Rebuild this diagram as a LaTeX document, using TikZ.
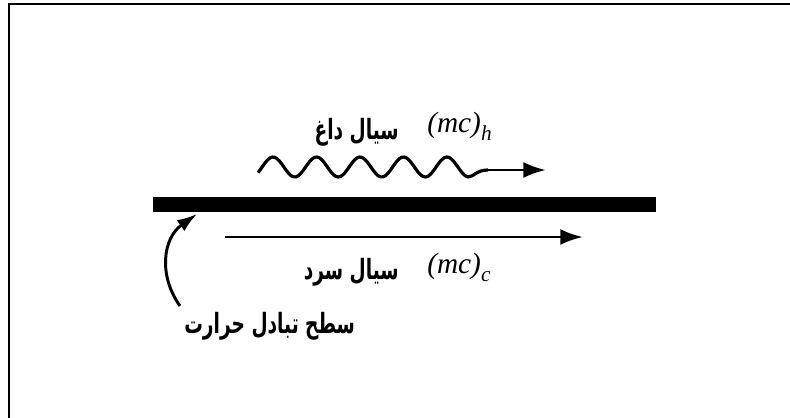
\documentclass[tikz,border=0pt]{standalone}
\usepackage{fontspec}
\usepackage{graphicx}
\usetikzlibrary{arrows.meta}
\TeXXeTstate=1
\newfontfamily\arabicfont[Script=Arabic]{DejaVu Sans}
\newfontfamily\lblserif{Liberation Serif}
\newcommand{\mclabel}[1]{{\lblserif\itshape (mc)\raisebox{-0.3em}{\fontsize{16}{18}\selectfont #1}}}
\newcommand{\fatext}[1]{\scalebox{0.9}[1.35]{\beginR #1\endR}}
\tikzset{
  frameline/.style={line width=2pt},
  flowarrow/.style={line width=2.2pt,-{Latex[length=17pt,width=12pt]}},
  fa/.style={font=\arabicfont\bfseries\fontsize{15.5}{18}\selectfont, inner sep=0pt},
  mathlbl/.style={font=\fontsize{22}{24}\selectfont, inner sep=0pt},
}
\begin{document}
\begin{tikzpicture}[x=0.75pt,y=-0.75pt]
\useasboundingbox (0,0) rectangle (790,418);
% frame (left and top edges)
\draw[frameline] (9,418) -- (9,4) -- (790,4);
% heat exchange wall
\node[fill=black, minimum width=503*0.75pt, minimum height=15*0.75pt, inner sep=0pt, anchor=north west] (wall) at (153,197) {};
% hot fluid wavy arrow
\coordinate (wend) at (546,170);
\draw[line width=2.4pt] plot[domain=258:468, samples=90, smooth] (\x,{167-10*cos((\x-273)*8.27586)})
  .. controls (474,177) and (476,170) .. (488,170) coordinate (wtail);
\draw[flowarrow] (wtail) -- (wend);
% cold fluid straight arrow
\coordinate (cstart) at (225,237);
\coordinate (cend) at (583,237);
\draw[flowarrow] (cstart) -- (cend);
% labels
\node[fa, anchor=base east] (hotfa) at (399,139) {\fatext{سیال داغ}};
\node[mathlbl, anchor=base west] (hotm) at (427,132) {\mclabel{h}};
\node[fa, anchor=base east] (coldfa) at (399,279) {\fatext{سیال سرد}};
\node[mathlbl, anchor=base west] (coldm) at (427,273) {\mclabel{c}};
\node[fa, anchor=base west] (surf) at (184,333) {\fatext{سطح تبادل حرارت}};
% pointer to the wall
\coordinate (ptip) at (197,214);
\draw[line width=2.2pt,-{Latex[length=15pt,width=10pt]}] (180,306) .. controls (158,275) and (163,238) .. (ptip);
\end{tikzpicture}
\end{document}
